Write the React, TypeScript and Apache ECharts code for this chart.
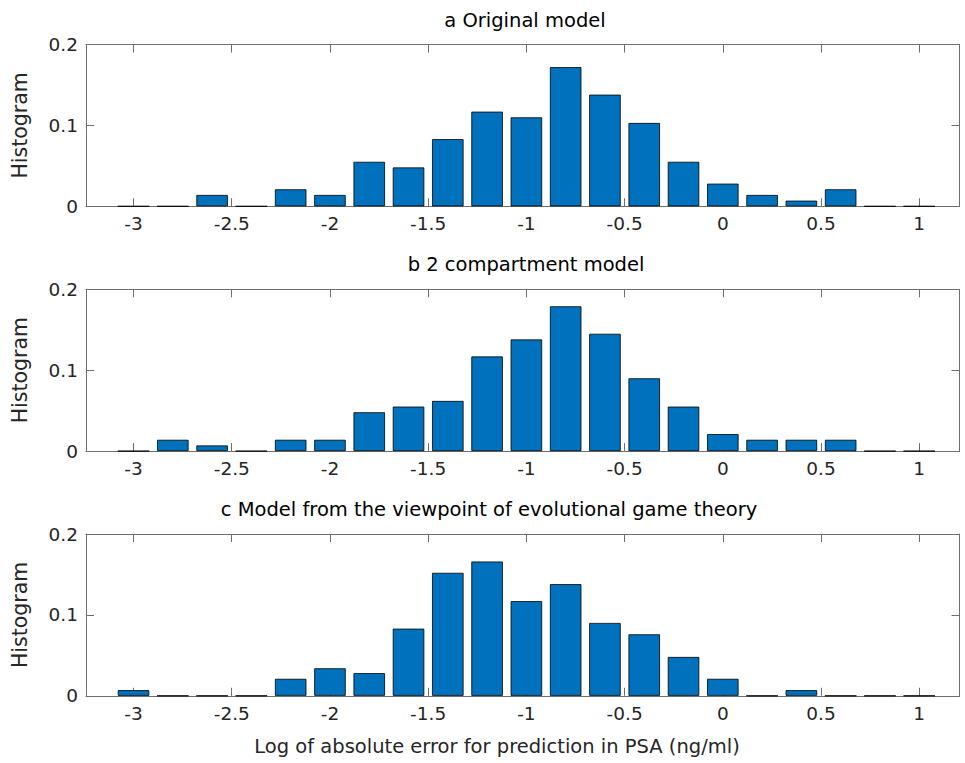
import React, { useEffect, useRef } from "react";
import * as echarts from "echarts";

// Bin centres of the histograms (log10 of absolute error)
const BIN_CENTERS = [
  -3.0, -2.8, -2.6, -2.4, -2.2, -2.0, -1.8, -1.6, -1.4, -1.2, -1.0,
  -0.8, -0.6, -0.4, -0.2, 0.0, 0.2, 0.4, 0.6, 0.8, 1.0,
];

// a Original model
const ORIGINAL = [
  0, 0, 0.014, 0, 0.021, 0.014, 0.055, 0.048, 0.083, 0.117, 0.110,
  0.172, 0.138, 0.103, 0.055, 0.028, 0.014, 0.007, 0.021, 0, 0,
];

// b 2 compartment model
const TWO_COMPARTMENT = [
  0, 0.014, 0.007, 0, 0.014, 0.014, 0.048, 0.055, 0.062, 0.117, 0.138,
  0.179, 0.145, 0.090, 0.055, 0.021, 0.014, 0.014, 0.014, 0, 0,
];

// c Model from the viewpoint of evolutional game theory
const EVOLUTIONAL = [
  0.007, 0, 0, 0, 0.021, 0.034, 0.028, 0.083, 0.152, 0.166, 0.117,
  0.138, 0.090, 0.076, 0.048, 0.021, 0, 0.007, 0, 0, 0,
];

const X_TICKS = [-3, -2.5, -2, -1.5, -1, -0.5, 0, 0.5, 1];
const Y_TICKS = [0, 0.1, 0.2];

const TITLES = [
  "a Original model",
  "b 2 compartment model",
  "c Model from the viewpoint of evolutional game theory",
];
const X_LABEL = "Log of absolute error for prediction in PSA (ng/ml)";
const Y_LABEL = "Histogram";

const SERIES = [ORIGINAL, TWO_COMPARTMENT, EVOLUTIONAL];

const FONT = "'DejaVu Sans', sans-serif";
const AXIS_COLOR = "#6e6e6e";
const TEXT_COLOR = "#262626";

const X_MIN = -3.242;
const X_MAX = 1.205;

const GRID_TOPS = [44.5, 289.3, 534];
const GRID_H = 161.8;
const TITLE_POS = [
  { x: 525, y: 20 },
  { x: 526, y: 264 },
  { x: 489, y: 509 },
];

export default function App() {
  const ref = useRef<HTMLDivElement>(null);

  useEffect(() => {
    if (!ref.current) return;
    const chart = echarts.init(ref.current, undefined, { renderer: "svg" });

    const grids: any[] = [];
    const xAxes: any[] = [];
    const yAxes: any[] = [];
    const series: any[] = [];
    const graphics: any[] = [];

    GRID_TOPS.forEach((top, i) => {
      grids.push({ left: 86, right: 5.5, top, height: GRID_H, containLabel: false });

      const baseX = {
        type: "value",
        gridIndex: i,
        min: X_MIN,
        max: X_MAX,
        splitLine: { show: false },
        axisLine: { show: true, onZero: false, lineStyle: { color: AXIS_COLOR, width: 1 } },
        axisTick: {
          show: true,
          inside: true,
          length: 8,
          customValues: X_TICKS,
          lineStyle: { color: AXIS_COLOR, width: 1 },
        },
      };
      xAxes.push({
        ...baseX,
        position: "bottom",
        axisLabel: {
          show: true,
          customValues: X_TICKS,
          margin: 8,
          color: TEXT_COLOR,
          fontFamily: FONT,
          fontSize: 18.5,
          formatter: (v: number) => String(v),
        },
      });
      xAxes.push({ ...baseX, position: "top", axisLabel: { show: false } });

      const baseY = {
        type: "value",
        gridIndex: i,
        min: 0,
        max: 0.2,
        interval: 0.1,
        splitLine: { show: false },
        axisLine: { show: true, onZero: false, lineStyle: { color: AXIS_COLOR, width: 1 } },
        axisTick: {
          show: true,
          inside: true,
          length: 8,
          customValues: Y_TICKS,
          lineStyle: { color: AXIS_COLOR, width: 1 },
        },
      };
      yAxes.push({
        ...baseY,
        position: "left",
        axisLabel: {
          show: true,
          customValues: Y_TICKS,
          margin: 8,
          color: TEXT_COLOR,
          fontFamily: FONT,
          fontSize: 18.5,
          formatter: (v: number) => String(Math.round(v * 10) / 10),
        },
      });
      yAxes.push({ ...baseY, position: "right", axisLabel: { show: false } });

      series.push({
        type: "bar",
        xAxisIndex: i * 2,
        yAxisIndex: i * 2,
        barWidth: 31.5,
        data: BIN_CENTERS.map((c, k) => [c, SERIES[i][k]]),
        itemStyle: { color: "#0072BD", borderColor: "#000000", borderWidth: 0.8 },
        emphasis: { disabled: true },
      });

      graphics.push({
        type: "text",
        x: TITLE_POS[i].x,
        y: TITLE_POS[i].y,
        style: {
          text: TITLES[i],
          align: "center",
          verticalAlign: "middle",
          fill: "#000000",
          font: `19.5px ${FONT}`,
        },
      });
      graphics.push({
        type: "text",
        x: 20,
        y: top + GRID_H / 2,
        rotation: Math.PI / 2,
        style: {
          text: Y_LABEL,
          align: "center",
          verticalAlign: "middle",
          fill: TEXT_COLOR,
          font: `20.5px ${FONT}`,
        },
      });
    });

    graphics.push({
      type: "text",
      x: 497,
      y: 746,
      style: {
        text: X_LABEL,
        align: "center",
        verticalAlign: "middle",
        fill: TEXT_COLOR,
        font: `19.5px ${FONT}`,
      },
    });

    chart.setOption({
      animation: false,
      backgroundColor: "#ffffff",
      grid: grids,
      xAxis: xAxes,
      yAxis: yAxes,
      series,
      graphic: graphics,
    });

    return () => chart.dispose();
  }, []);

  return <div ref={ref} style={{ width: 965, height: 763, position: "absolute", left: 0, top: 0 }} />;
}
